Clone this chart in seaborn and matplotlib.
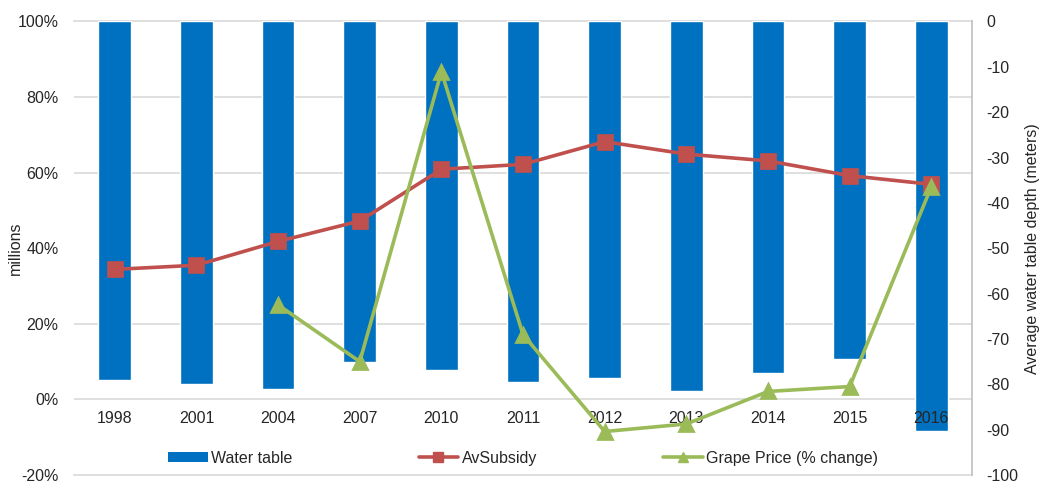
import numpy as np
import pandas as pd
import matplotlib
matplotlib.use("Agg")
import matplotlib.pyplot as plt
from matplotlib.lines import Line2D
from matplotlib.patches import Patch
import seaborn as sns

years = ["1998", "2001", "2004", "2007", "2010", "2011", "2012", "2013", "2014", "2015", "2016"]
water_table = [-79.0, -79.9, -81.0, -75.1, -76.8, -79.5, -78.7, -81.4, -77.6, -74.5, -90.4]
av_subsidy = [34.4, 35.5, 41.8, 47.2, 60.9, 62.2, 68.2, 64.9, 63.1, 59.2, 56.9]
grape_price = [np.nan, np.nan, 25.0, 10.0, 86.7, 17.1, -8.5, -6.5, 2.1, 3.4, 56.3]

left_ticks = [-20, 0, 20, 40, 60, 80, 100]
right_ticks = [0, -10, -20, -30, -40, -50, -60, -70, -80, -90, -100]

BLUE = "#0070C0"
RED = "#C0504D"
GREEN = "#9BBB59"
GRID = "#D9D9D9"
FS = 11.5

sns.set_style("white")
plt.rcParams["font.family"] = ["Liberation Sans", "DejaVu Sans"]
plt.rcParams["font.size"] = FS

df = pd.DataFrame({"year": years, "water": water_table,
                   "subsidy": av_subsidy, "grape": grape_price})

fig = plt.figure(figsize=(10.42, 4.83), dpi=100)
ax = fig.add_axes([0.071, 0.0166, 0.862, 0.939])
ax2 = ax.twinx()

# Bars (water table depth, right-hand scale)
sns.barplot(data=df, x="year", y="water", order=years, color=BLUE,
            width=0.4, saturation=1, ax=ax, zorder=2)
ax.set_ylim(-100, 0)
ax.set_yticks(right_ticks)
ax.set_yticklabels([str(t) for t in right_ticks])
ax.set_xlabel("")
ax.tick_params(axis="x", length=0, labelbottom=False)
# gridlines matching the left percentage scale, behind bars
ax.set_yticks(np.linspace(-100, 0, len(left_ticks)), minor=True)
ax.grid(True, which="minor", axis="y", color=GRID, linewidth=1.2, zorder=0)
ax.grid(False, which="major")
ax.set_axisbelow(True)
for s in ["left", "right"]:
    ax.spines[s].set_visible(False)
for s in ["top", "bottom"]:
    ax.spines[s].set_visible(True)
    ax.spines[s].set_color(GRID)
    ax.spines[s].set_linewidth(1.2)
    ax.spines[s].set_zorder(0.5)

# Lines (left-hand percentage scale)
sns.pointplot(data=df, x="year", y="subsidy", order=years, color=RED,
              markers="s", linestyles="-", errorbar=None, ax=ax2,
              linewidth=2.6, markersize=9.5)
sns.pointplot(data=df, x="year", y="grape", order=years, color=GREEN,
              markers="^", linestyles="-", errorbar=None, ax=ax2,
              linewidth=2.6, markersize=10.5)
ax2.set_ylim(-20, 100)
ax2.set_yticks(left_ticks)
ax2.set_yticklabels([f"{t}%" for t in left_ticks])
ax2.set_xlabel("")
ax2.set_xlim(ax.get_xlim())
ax2.xaxis.set_visible(True)
ax2.set_xticks(range(len(years)))
ax2.set_xticklabels(years)
ax2.tick_params(axis="x", length=0, pad=-46, labelsize=FS)
for s in ["top", "left", "bottom"]:
    ax2.spines[s].set_visible(False)
ax2.spines["right"].set_color("#BFBFBF")
ax2.spines["right"].set_linewidth(1.2)
ax2.grid(False)

# axis sides: bars' scale on the right, percentage scale on the left
ax.yaxis.tick_right()
ax.yaxis.set_label_position("right")
ax.set_ylabel("Average water table depth (meters)", fontsize=FS)
ax.yaxis.set_label_coords(1.059, 0.5)
ax.tick_params(axis="y", which="both", length=0, pad=10, labelsize=FS)
ax2.yaxis.tick_left()
ax2.yaxis.set_label_position("left")
ax2.set_ylabel("millions", fontsize=FS)
ax2.yaxis.set_label_coords(-0.057, 0.5)
ax2.tick_params(axis="y", length=0, pad=11, labelsize=FS)

handles = [
    Patch(facecolor=BLUE, edgecolor="none"),
    Line2D([], [], color=RED, linewidth=2.6, marker="s", markersize=7),
    Line2D([], [], color=GREEN, linewidth=2.6, marker="^", markersize=7),
]
labels = ["Water table", "AvSubsidy", "Grape Price (% change)"]
leg = ax2.legend(handles, labels, loc="center", bbox_to_anchor=(0.5, 0.037),
                 ncol=3, frameon=False, fontsize=FS, handlelength=2.5,
                 handleheight=0.55, handletextpad=0.2, columnspacing=7.9)

fig.savefig("out.png", dpi=100)
